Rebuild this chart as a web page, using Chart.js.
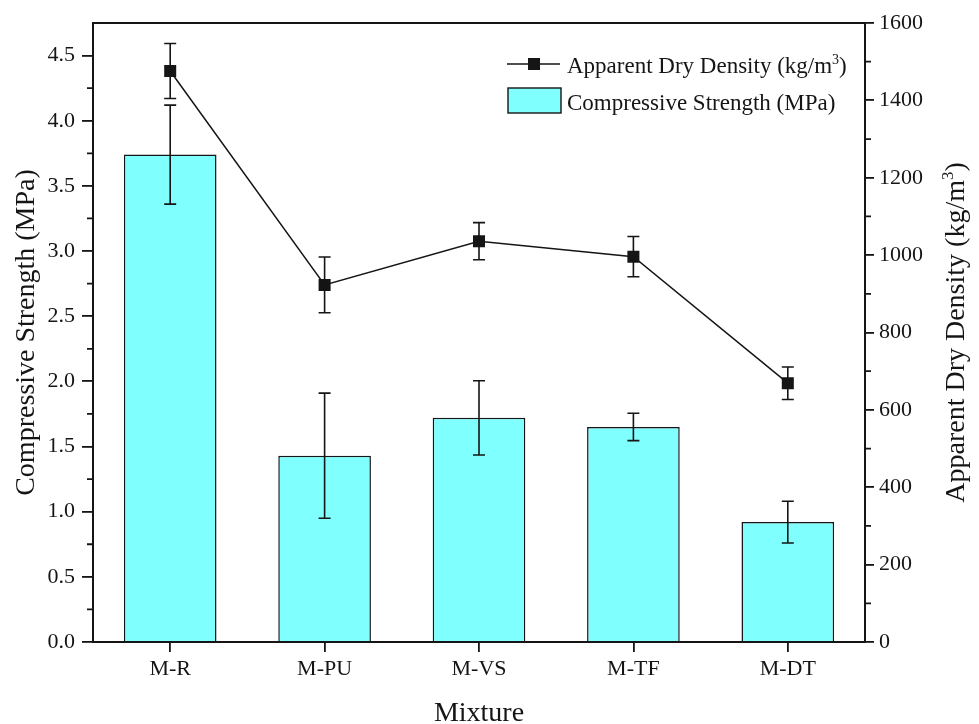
<!DOCTYPE html>
<html>
<head>
<meta charset="utf-8">
<script src="https://cdn.jsdelivr.net/npm/chart.js@4.4.1/dist/chart.umd.min.js"></script>
<style>
  html, body { margin: 0; padding: 0; background: #fff; }
  #c { display: block; }
</style>
</head>
<body>
<canvas id="c" width="979" height="724"></canvas>
<script>
// data
const categories = ['M-R', 'M-PU', 'M-VS', 'M-TF', 'M-DT'];
const strength = [3.74, 1.43, 1.72, 1.65, 0.92];        // MPa
const strengthErr = [0.38, 0.48, 0.285, 0.105, 0.16];
const density = [1476, 923, 1036, 996, 669];             // kg/m3
const densityErr = [71, 72, 48, 52, 42];
const leftTicks = [0, 0.5, 1, 1.5, 2, 2.5, 3, 3.5, 4, 4.5];
const leftMinor = [0.25, 0.75, 1.25, 1.75, 2.25, 2.75, 3.25, 3.75, 4.25];
const rightTicks = [0, 200, 400, 600, 800, 1000, 1200, 1400, 1600];
const rightMinor = [100, 300, 500, 700, 900, 1100, 1300, 1500];

const SERIF = '"Liberation Serif", "Times New Roman", serif';
const INK = '#151515';
const BAR = '#80ffff';

// draws text with a superscript part: parts = [[text, sup?], ...]
function supText(ctx, parts, x, y, size, align){
  const widths = parts.map(p => {
    ctx.font = (p[1] ? Math.round(size*0.62) : size) + 'px ' + SERIF;
    return ctx.measureText(p[0]).width;
  });
  const total = widths.reduce((a,b)=>a+b, 0);
  let cx = align === 'center' ? x - total/2 : x;
  ctx.textAlign = 'left';
  ctx.textBaseline = 'alphabetic';
  parts.forEach((p,i)=>{
    ctx.font = (p[1] ? Math.round(size*0.62) : size) + 'px ' + SERIF;
    ctx.fillText(p[0], cx, p[1] ? y - size*0.4 : y);
    cx += widths[i];
  });
}

const extras = {
  id: 'extras',
  afterDatasetsDraw(chart){
    const {ctx, scales:{x, y, y1}} = chart;
    ctx.save();
    ctx.strokeStyle = INK; ctx.lineWidth = 1.6;
    const cap = 6;
    const err = (px, p1, p2) => {
      ctx.beginPath();
      ctx.moveTo(px, p1); ctx.lineTo(px, p2);
      ctx.moveTo(px-cap, p1); ctx.lineTo(px+cap, p1);
      ctx.moveTo(px-cap, p2); ctx.lineTo(px+cap, p2);
      ctx.stroke();
    };
    strength.forEach((v,i)=>{
      err(x.getPixelForValue(i), y.getPixelForValue(v - strengthErr[i]), y.getPixelForValue(v + strengthErr[i]));
    });
    density.forEach((v,i)=>{
      err(x.getPixelForValue(i), y1.getPixelForValue(v - densityErr[i]), y1.getPixelForValue(v + densityErr[i]));
    });
    ctx.restore();
  },
  afterDraw(chart){
    const {ctx, chartArea:a, scales:{y, y1}} = chart;
    ctx.save();
    ctx.strokeStyle = INK; ctx.fillStyle = INK; ctx.lineWidth = 2;
    // top frame
    ctx.beginPath(); ctx.moveTo(a.left-1, a.top); ctx.lineTo(a.right+1, a.top); ctx.stroke();
    // minor ticks
    ctx.lineWidth = 1.8;
    ctx.beginPath();
    leftMinor.forEach(v => { const py = y.getPixelForValue(v); ctx.moveTo(a.left, py); ctx.lineTo(a.left-6, py); });
    rightMinor.forEach(v => { const py = y1.getPixelForValue(v); ctx.moveTo(a.right, py); ctx.lineTo(a.right+6, py); });
    ctx.stroke();

    // right axis title, reading upward
    ctx.save();
    ctx.translate(955, (a.top + a.bottom)/2);
    ctx.rotate(-Math.PI/2);
    supText(ctx, [['Apparent Dry Density (kg/m'], ['3', true], [')']], 0, 9, 28, 'center');
    ctx.restore();

    // legend
    const lx = 507, ly = 64;
    ctx.lineWidth = 1.6;
    ctx.beginPath(); ctx.moveTo(lx, ly); ctx.lineTo(lx+53, ly); ctx.stroke();
    ctx.fillRect(lx+21, ly-6, 12, 12);
    supText(ctx, [['Apparent Dry Density (kg/m'], ['3', true], [')']], 567, 73, 23);
    ctx.fillStyle = BAR;
    ctx.fillRect(508, 88, 53, 25);
    ctx.lineWidth = 1.4;
    ctx.strokeRect(508, 88, 53, 25);
    ctx.fillStyle = INK;
    supText(ctx, [['Compressive Strength (MPa)']], 567, 110, 23);
    ctx.restore();
  }
};

const tickFont = { family: SERIF, size: 22 };
const axisGrid = { display: true, drawOnChartArea: false, drawTicks: true, tickLength: 11, color: INK, lineWidth: 1.8 };

new Chart(document.getElementById('c'), {
  data: {
    labels: categories,
    datasets: [
      {
        type: 'line', label: 'Apparent Dry Density (kg/m3)', data: density, yAxisID: 'y1',
        borderColor: INK, borderWidth: 1.5, backgroundColor: INK,
        pointStyle: 'rect', pointRadius: 8.5, pointHoverRadius: 8.5, pointBorderWidth: 0,
        tension: 0, order: 0
      },
      {
        type: 'bar', label: 'Compressive Strength (MPa)', data: strength, yAxisID: 'y',
        backgroundColor: BAR, borderColor: INK, borderWidth: 1.5,
        barPercentage: 0.6, categoryPercentage: 1, order: 1
      }
    ]
  },
  options: {
    responsive: false,
    animation: false,
    events: [],
    layout: { padding: { top: 23, left: 0, right: 0, bottom: 0 } },
    plugins: { legend: { display: false }, tooltip: { enabled: false } },
    scales: {
      x: {
        type: 'category', offset: true,
        grid: { ...axisGrid, offset: false, tickLength: 10 },
        border: { display: true, color: INK, width: 2 },
        ticks: { font: tickFont, color: INK, padding: 4, maxRotation: 0 },
        title: { display: true, text: 'Mixture', font: { family: SERIF, size: 28 }, color: INK, padding: { top: 0, bottom: -6 } },
        afterFit(s){ s.height = 82; }
      },
      y: {
        position: 'left', min: 0, max: 4.75,
        afterBuildTicks(s){ s.ticks = leftTicks.map(v => ({ value: v })); },
        grid: axisGrid,
        border: { display: true, color: INK, width: 2 },
        ticks: { font: tickFont, color: INK, padding: 7, callback: v => v.toFixed(1) },
        title: { display: true, text: 'Compressive Strength (MPa)', font: { family: SERIF, size: 28 }, color: INK, padding: { top: 10, bottom: 0 } },
        afterFit(s){ s.width = 93; }
      },
      y1: {
        position: 'right', min: 0, max: 1600,
        afterBuildTicks(s){ s.ticks = rightTicks.map(v => ({ value: v })); },
        grid: { ...axisGrid, tickLength: 9 },
        border: { display: true, color: INK, width: 2 },
        ticks: { font: tickFont, color: INK, padding: 5, callback: v => String(v) },
        afterFit(s){ s.width = 114; }
      }
    }
  },
  plugins: [extras]
});
</script>
</body>
</html>
